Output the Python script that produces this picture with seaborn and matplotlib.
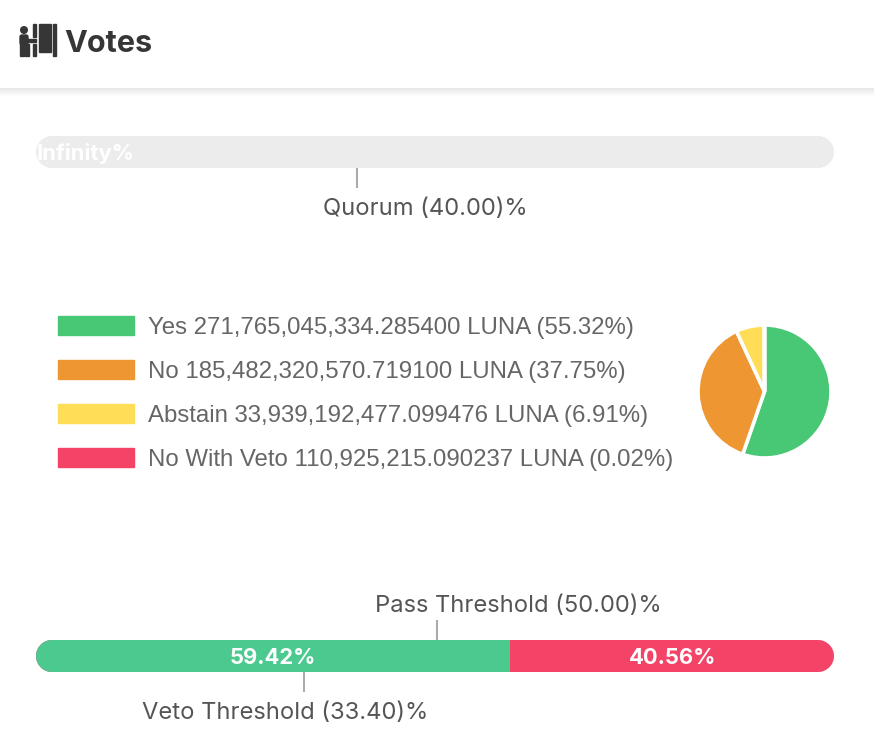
import numpy as np
import matplotlib
matplotlib.use("Agg")
import matplotlib.pyplot as plt
import seaborn as sns
from matplotlib.patches import Patch, Rectangle, Circle, FancyBboxPatch, Polygon
from matplotlib.transforms import ScaledTranslation

sns.set_style("white")
plt.rcParams["font.family"] = ["Inter", "DejaVu Sans"]

W, H = 874, 735

# dados
vote_labels = ["Yes", "No", "Abstain", "No With Veto"]
vote_amounts = ["271,765,045,334.285400", "185,482,320,570.719100",
                "33,939,192,477.099476", "110,925,215.090237"]
vote_pcts = [55.32, 37.75, 6.91, 0.02]
vote_colors = ["#48C774", "#EE9632", "#FFDD57", "#F34468"]

quorum_pct = 40.00
pass_pct = 50.00
veto_pct = 33.40
bar_pcts = [59.42, 40.56]
bar_colors = ["#4BC98F", "#F34468"]

TEXTO = "#555555"
TICK = "#ababab"
FS_T = 17.1
FS_L = 17.3
FS_B = 15.8


def px_axes(fig, x0, y0, x1, y1):
    # eixo posicionado em pixels, origem no topo
    return fig.add_axes([x0 / W, 1 - y1 / H, (x1 - x0) / W, (y1 - y0) / H])


def pill(ax, larg=798, alt=32):
    # contorno de pilula para recortar as barras
    r = alt / 2
    t = np.linspace(-np.pi / 2, np.pi / 2, 40)
    dir_x = (larg - r + r * np.cos(t)) / larg
    esq_x = (r - r * np.cos(t[::-1])) / larg
    dir_y = (r + r * np.sin(t)) / alt
    esq_y = (r + r * np.sin(t[::-1])) / alt
    pts = np.column_stack([np.r_[dir_x, esq_x], np.r_[dir_y, esq_y]])
    clip = Polygon(pts, closed=True, transform=ax.transAxes, fc="none", ec="none")
    ax.add_patch(clip)
    for p in ax.patches:
        if p is not clip:
            p.set_clip_path(clip)
    return clip


def threshold(fig, ax, pct, up, label, texto_px):
    # traco + texto do limite, ancorados no valor do eixo
    base = ax.get_xaxis_transform()
    trans = base + ScaledTranslation(1.5 / 100, 0, fig.dpi_scale_trans)
    trans_txt = base + ScaledTranslation((1.5 + texto_px) / 100, 0, fig.dpi_scale_trans)
    y0, y1, yt = (1, 1.64, 2.07) if up else (0, -0.64, -1.28)
    ax.plot([pct, pct], [y0, y1], color=TICK, lw=1.5, transform=trans, clip_on=False, solid_capstyle="butt")
    ax.text(pct, yt, label, transform=trans_txt, ha="center", va="center", fontsize=FS_T, color=TEXTO)


fig = plt.figure(figsize=(W / 100, H / 100), dpi=100, facecolor="white")

# CABECALHO
head = px_axes(fig, 0, 0, W, 100)
head.axis("off")
sombra = np.linspace(0.91, 1, 10).reshape(-1, 1)
head.imshow(sombra, cmap="gray", vmin=0, vmax=1, extent=(0, W, 97, 88), aspect="auto")
head.set_xlim(0, W)
head.set_ylim(100, 0)
ICONE = "#363636"
head.add_patch(Circle((24, 30), 3.3, color=ICONE))
head.add_patch(FancyBboxPatch((20, 35), 8, 10, boxstyle="round,pad=0,rounding_size=2", color=ICONE))
head.add_patch(Rectangle((20, 44), 3.5, 12, color=ICONE))
head.add_patch(Rectangle((25, 44), 3.5, 12, color=ICONE))
head.add_patch(Rectangle((26, 39), 10, 3, color=ICONE))
head.add_patch(Rectangle((33, 24), 3, 13, color=ICONE))
head.add_patch(Rectangle((33, 44), 3, 12, color=ICONE))
head.add_patch(Rectangle((39, 24), 12, 28, color=ICONE))
head.add_patch(Rectangle((53, 24), 3, 32, color=ICONE))
head.text(64, 44.5, "Votes", fontsize=22, fontweight="bold", color=ICONE, va="center", ha="left")

# QUORUM
ax_q = px_axes(fig, 36, 136, 834, 168)
sns.barplot(x=[100], y=[""], color="#ececec", width=1, linewidth=0, ax=ax_q, saturation=1)
ax_q.set_xlim(0, 100)
ax_q.set_ylim(0.5, -0.5)
ax_q.axis("off")
clip_q = pill(ax_q)
txt = ax_q.text(0.1, 0.06, "Infinity%", color="white", fontsize=FS_B, fontweight="bold", ha="left", va="center")
txt.set_clip_path(clip_q)
threshold(fig, ax_q, quorum_pct, False, f"Quorum ({quorum_pct:.2f})%", 68.5)

# LEGENDA
handles = [Patch(color=c) for c in vote_colors]
labels = [f"{a} {b} LUNA ({c:.2f}%)" for a, b, c in zip(vote_labels, vote_amounts, vote_pcts)]
fs_px = FS_L * 100 / 72
fig.legend(handles, labels, loc="upper left", bbox_to_anchor=(58 / W, 1 - 316 / H), fontsize=FS_L,
           frameon=False, borderpad=0, borderaxespad=0, handlelength=76 / fs_px, handleheight=20 / fs_px,
           handletextpad=14 / fs_px, labelspacing=21.3 / fs_px, labelcolor="#666666",
           prop={"family": "Liberation Sans", "size": FS_L})

# PIZZA
ax_p = px_axes(fig, 696, 323, 833, 460)
ax_p.pie(vote_pcts, colors=vote_colors, startangle=90, counterclock=False, radius=1,
         wedgeprops={"edgecolor": "white", "linewidth": 2.6})
ax_p.set_xlim(-1.03, 1.03)
ax_p.set_ylim(-1.03, 1.03)

# BARRA DE VOTOS
ax_b = px_axes(fig, 36, 640, 834, 672)
acumulado = np.cumsum(bar_pcts)
for valor, cor in zip(acumulado[::-1], bar_colors[::-1]):
    sns.barplot(x=[valor], y=[""], color=cor, width=1, linewidth=0, ax=ax_b, saturation=1)
ax_b.set_xlim(0, acumulado[-1])
ax_b.set_ylim(0.5, -0.5)
ax_b.axis("off")
pill(ax_b)
inicio = 0
for valor in bar_pcts:
    ax_b.text(inicio + valor / 2, 0.06, f"{valor:.2f}%", color="white", fontsize=FS_B, fontweight="bold",
              ha="center", va="center")
    inicio += valor
threshold(fig, ax_b, pass_pct, True, f"Pass Threshold ({pass_pct:.2f})%", 81.5)
threshold(fig, ax_b, veto_pct, False, f"Veto Threshold ({veto_pct:.2f})%", -18.5)

fig.savefig("out.png", dpi=100, facecolor="white")
